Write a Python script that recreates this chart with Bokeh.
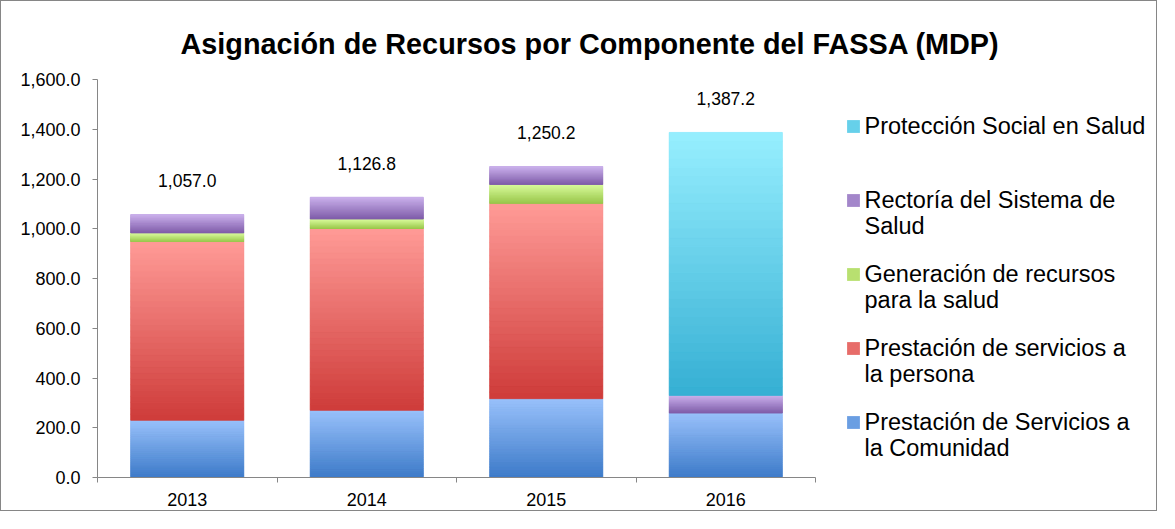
import numpy as np
from bokeh.plotting import figure
from bokeh.models import (Range1d, FixedTicker, NumeralTickFormatter, Legend,
                          LegendItem, ColumnDataSource)
from bokeh.embed import file_html
from bokeh.resources import INLINE
from bokeh.core.properties import value

# ---------------- data ----------------
years = ["2013", "2014", "2015", "2016"]
comunidad = [230.0, 270.0, 317.0, 259.0]
persona = [719.0, 731.0, 785.0, 0.0]
generacion = [34.0, 38.0, 76.0, 0.0]
rectoria = [74.0, 87.8, 72.2, 71.0]
proteccion = [0.0, 0.0, 0.0, 1057.2]
totales = [1057.0, 1126.8, 1250.2, 1387.2]
total_labels = ["1,057.0", "1,126.8", "1,250.2", "1,387.2"]
y_ticks = [0, 200, 400, 600, 800, 1000, 1200, 1400, 1600]

series_keys = ["comunidad", "persona", "generacion", "rectoria", "proteccion"]
# legend labels, wrapped as in the reference (first line, continuation)
label_line1 = ["Prestación de Servicios a", "Prestación de servicios a",
               "Generación de recursos", "Rectoría del Sistema de",
               "Protección Social en Salud"]
label_line2 = ["la Comunidad", "la persona", "para la salud", "Salud", ""]
color_top = ["#99C1FB", "#FF9B97", "#D9FB9B", "#CAB0EB", "#97EFFF"]
color_mid = ["#6A9EE2", "#E76C69", "#B8E070", "#A386CA", "#66D0EA"]
color_bot = ["#3C7AC8", "#CE3B39", "#97C549", "#7D5AA7", "#35AFD3"]

FONT = "Liberation Sans"
GRAY = "#868686"

# ---------------- layout ----------------
W, H = 1157, 511
left, right_b, top, bottom = 96, 5, 78, 35
px_per_cat = 179.5
x_end = (W - left - right_b) / px_per_cat

xs = [i + 0.5 for i in range(len(years))]
data = dict(x=xs, comunidad=comunidad, persona=persona, generacion=generacion,
            rectoria=rectoria, proteccion=proteccion)
src = ColumnDataSource(data)

p = figure(width=W, height=H, output_backend="svg", toolbar_location=None,
           x_range=Range1d(0, x_end), y_range=Range1d(0, 1600),
           min_border_left=left, min_border_right=right_b,
           min_border_top=top, min_border_bottom=bottom,
           title="Asignación de Recursos por Componente del FASSA (MDP)")
p.styles = {"border": "1px solid " + GRAY}

p.title.text_font = FONT
p.title.text_font_size = "28.8px"
p.title.text_font_style = "bold"
p.title.text_color = "#000000"
p.title.align = "left"
p.title.offset = 83
p.title.standoff = 39

p.outline_line_color = None
p.xgrid.visible = False
p.ygrid.visible = False

bar_w = 0.63
renderers = p.vbar_stack(series_keys, x="x", width=bar_w, source=src,
                         fill_color=color_mid, line_color=None)

# gradient overlay computed from the stacked values
vals = [comunidad, persona, generacion, rectoria, proteccion]
N = 30
qb, qt, ql, qr, qc = [], [], [], [], []
base = np.zeros(len(years))
for s, v in enumerate(vals):
    v = np.array(v)
    ctop = np.array([int(color_top[s][k:k + 2], 16) for k in (1, 3, 5)])
    cbot = np.array([int(color_bot[s][k:k + 2], 16) for k in (1, 3, 5)])
    for i in range(len(years)):
        if v[i] <= 0:
            continue
        y0, y1 = base[i], base[i] + v[i]
        for k in range(N):
            b = y0 + (y1 - y0) * k / N
            t = y0 + (y1 - y0) * (k + 1) / N
            f = (k + 0.5) / N
            c = cbot + (ctop - cbot) * f
            qb.append(b); qt.append(t)
            ql.append(xs[i] - bar_w / 2); qr.append(xs[i] + bar_w / 2)
            qc.append("#%02x%02x%02x" % tuple(int(round(z)) for z in c))
    base = base + v
p.quad(left=ql, right=qr, bottom=qb, top=qt, fill_color=qc, line_color=qc,
       line_width=0.8)

# totals
p.text(x=xs, y=totales, text=total_labels, text_align="center",
       text_baseline="middle", y_offset=-34, text_font=value(FONT),
       text_font_size="17.5px", text_color="#000000")

# axes
p.yaxis.ticker = FixedTicker(ticks=y_ticks)
p.yaxis.formatter = NumeralTickFormatter(format="0,0.0")
p.yaxis.bounds = (0, 1600)
p.yaxis.axis_line_color = GRAY
p.yaxis.major_tick_line_color = GRAY
p.yaxis.major_tick_out = 5
p.yaxis.major_tick_in = 0
p.yaxis.minor_tick_line_color = None
p.yaxis.major_label_standoff = 12
p.yaxis.major_label_text_font = FONT
p.yaxis.major_label_text_font_size = "18px"
p.yaxis.major_label_text_color = "#000000"

p.xaxis.ticker = FixedTicker(ticks=xs, minor_ticks=list(range(len(years) + 1)))
p.xaxis.major_label_overrides = {x: y for x, y in zip(xs, years)}
p.xaxis.bounds = (0, len(years))
p.xaxis.axis_line_color = GRAY
p.xaxis.major_tick_line_color = None
p.xaxis.major_tick_out = 5
p.xaxis.major_tick_in = 0
p.xaxis.minor_tick_line_color = GRAY
p.xaxis.minor_tick_out = 5
p.xaxis.minor_tick_in = 0
p.xaxis.major_label_standoff = 10
p.xaxis.major_label_text_font = FONT
p.xaxis.major_label_text_font_size = "18px"
p.xaxis.major_label_text_color = "#000000"

# legend: first lines with swatches, continuation lines aligned beneath
order = [4, 3, 2, 1, 0]
step, lab_h = 74, 27
first_center = 125          # canvas px of first legend line centre
frame_bottom = H - bottom
legA_h = len(order) * lab_h + (len(order) - 1) * (step - lab_h)
legA_y = frame_bottom - (first_center - lab_h / 2 + legA_h)
common = dict(label_text_font=FONT, label_text_font_size="23.5px",
              label_text_color="#000000", label_height=lab_h,
              spacing=step - lab_h, padding=0, margin=0,
              border_line_color=None, background_fill_alpha=0)
legA = Legend(items=[LegendItem(label=label_line1[s], renderers=[renderers[s]])
                     for s in order],
              location=(747.5, legA_y), glyph_width=16, glyph_height=16,
              label_standoff=4, **common)
p.add_layout(legA)

cont = [s for s in order if label_line2[s]]
legB_h = len(cont) * lab_h + (len(cont) - 1) * (step - lab_h)
legB_top = first_center + step + 26 - lab_h / 2
legB_y = frame_bottom - (legB_top + legB_h)
legB = Legend(items=[LegendItem(label=label_line2[s], renderers=[renderers[s]])
                     for s in cont],
              location=(767.5, legB_y), glyph_width=0, glyph_height=16,
              label_standoff=0, **common)
p.add_layout(legB)

open("out.html", "w").write(file_html(p, INLINE))
